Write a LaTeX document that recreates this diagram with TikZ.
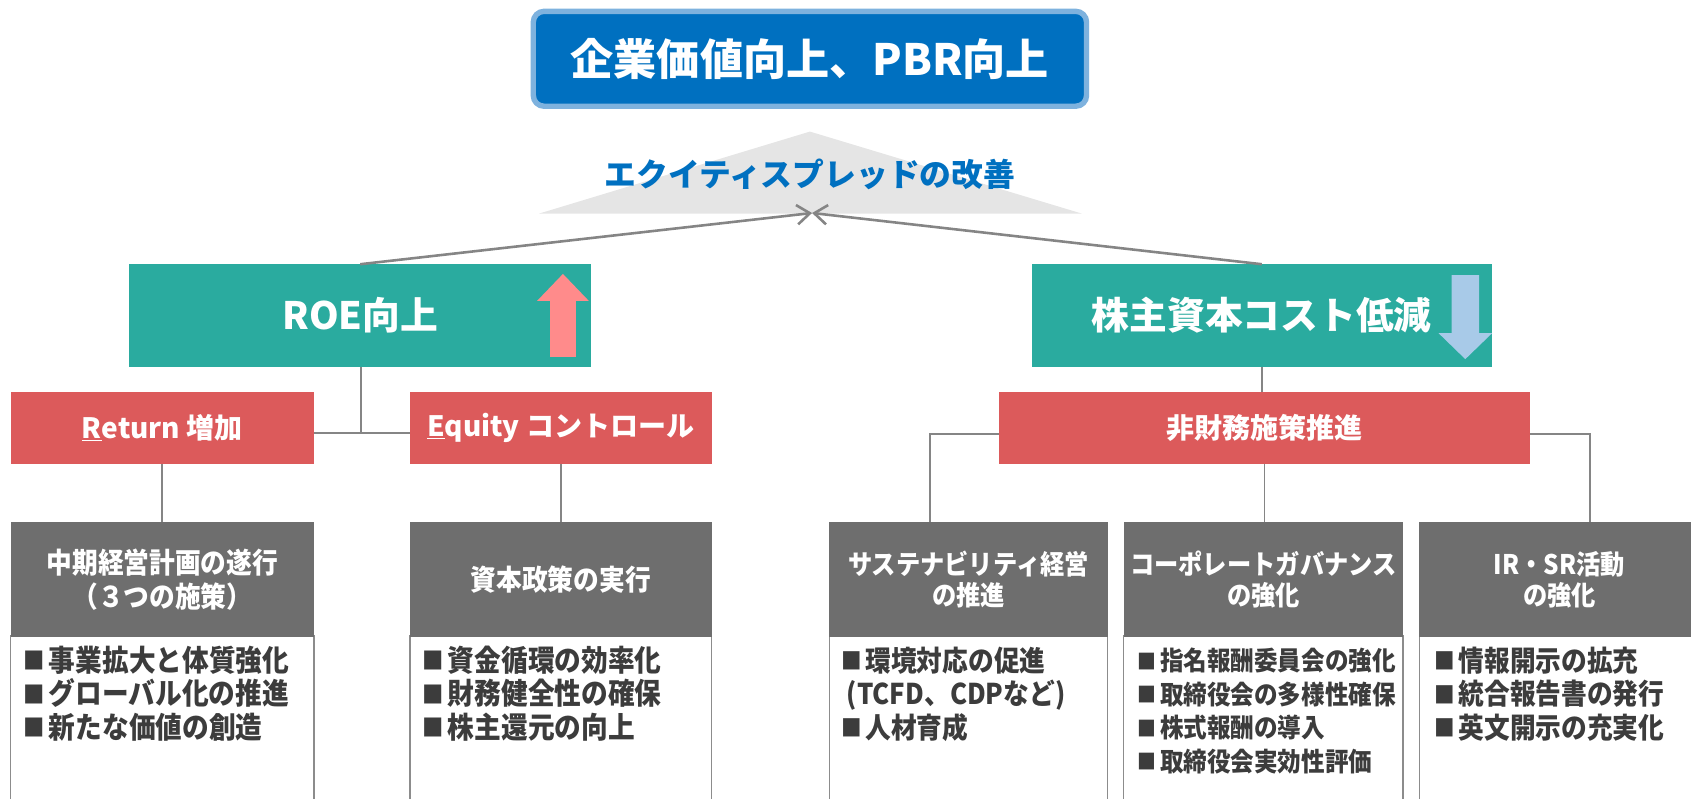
\documentclass[tikz,border=0pt]{standalone}
\usepackage{fontspec}
\setmainfont{Noto Sans CJK JP}
\newfontfamily\cond{Noto Sans CJK JP}[FakeStretch=0.9]
\usetikzlibrary{arrows.meta}
\newcommand\blt{\makebox[0.85em][l]{\raisebox{0.06em}{\scalebox{0.8}{■}}}}
\definecolor{titleblue}{HTML}{0070C0}
\definecolor{titleborder}{HTML}{7EB2DE}
\definecolor{tri}{HTML}{E5E5E5}
\definecolor{tealc}{HTML}{2AAB9F}
\definecolor{redc}{HTML}{DC5A5B}
\definecolor{hdr}{HTML}{6E6E6E}
\definecolor{linec}{HTML}{858585}
\definecolor{bodytxt}{HTML}{3C3C3C}
\definecolor{pinkc}{HTML}{FF8B8B}
\definecolor{lbluec}{HTML}{A8CAE8}
\definecolor{bordc}{HTML}{8C8C8C}
\begin{document}
\begin{tikzpicture}[x=1pt,y=-1pt,
  every node/.style={inner sep=0pt,outer sep=0pt},
  conn/.style={draw=linec,line width=1.8pt},
  arr/.style={draw=linec,line width=2.4pt,-{Straight Barb[length=12pt,width=18pt]}},
  tealbox/.style={fill=tealc,anchor=north west,minimum height=95pt,text=white,font=\fontsize{35}{40}\selectfont\bfseries},
  redbox/.style={fill=redc,anchor=north west,minimum height=66.5pt,text=white,font=\fontsize{26}{30}\selectfont\bfseries},
  hdrbox/.style={fill=hdr,anchor=north west,minimum height=107pt,text=white,align=center},
  bodybox/.style={draw=bordc,line width=1.3pt,fill=white,anchor=north west,minimum height=170pt},
  bodytext/.style={anchor=north west,text=bodytxt,align=left},
]
\useasboundingbox (0,0) rectangle (1568,740);

% title
\node[draw=titleborder,line width=5pt,fill=titleblue,rounded corners=10pt,
  minimum width=513pt,minimum height=88pt,text=white,
  font=\fontsize{40}{44}\selectfont\bfseries] (title) at (751,54.5) {企業価値向上、PBR向上};

% triangle and spread label
\fill[tri] (751,122) -- (1003,198) -- (500,198) -- cycle;
\node[text=titleblue,font=\fontsize{29.5}{32}\selectfont\bfseries] (spread) at (751,162) {エクイティスプレッドの改善};
\coordinate (meet) at (753,197.5);

% teal boxes
\node[tealbox,minimum width=428pt] (roe) at (120,245) {ROE向上};
\node[tealbox,minimum width=426pt] (cost) at (957,245) {株主資本コスト低減};

\fill[pinkc] (510,331) -- (510,279) -- (498,279) -- (522,254) -- (546,279) -- (534,279) -- (534,331) -- cycle;
\fill[lbluec] (1346,255) -- (1371.5,255) -- (1371.5,309) -- (1383.5,309) -- (1358.7,333) -- (1334,309) -- (1346,309) -- cycle;

\draw[arr] (roe.north) -- (meet);
\draw[arr] (cost.north) -- (meet);

% red boxes
\node[redbox,minimum width=281pt] (ret) at (10,363.5) {\underline{R}eturn 増加};
\node[redbox,minimum width=280pt] (eq) at (380,363.5) {\underline{E}quity コントロール};
\node[redbox,minimum width=493pt] (nf) at (926,363.5) {非財務施策推進};

% bottom boxes: bodies
\node[bodybox,minimum width=281pt] (p1) at (10,589) {};
\node[bodybox,minimum width=280pt] (p2) at (380,589) {};
\node[bodybox,minimum width=258pt] (p3) at (769,589) {};
\node[bodybox,minimum width=259pt] (p4) at (1042,589) {};
\node[bodybox,minimum width=260pt] (p5) at (1316,589) {};

% headers
\node[hdrbox,minimum width=281pt,font=\cond\fontsize{26.5}{31}\selectfont\bfseries] (b1) at (10,484) {中期経営計画の遂行\\（３つの施策）};
\node[hdrbox,minimum width=280pt,font=\cond\fontsize{26.5}{31}\selectfont\bfseries] (b2) at (380,484) {資本政策の実行};
\node[hdrbox,minimum width=258pt,font=\cond\fontsize{25}{29}\selectfont\bfseries] (b3) at (769,484) {サステナビリティ経営\\の推進};
\node[hdrbox,minimum width=259pt,font=\cond\fontsize{25}{29}\selectfont\bfseries] (b4) at (1042,484) {コーポレートガバナンス\\の強化};
\node[hdrbox,minimum width=260pt,font=\cond\fontsize{25}{29}\selectfont\bfseries] (b5) at (1316,484) {IR・SR活動\\の強化};

% body texts
\node[bodytext,font=\cond\fontsize{27.5}{31}\selectfont\bfseries] (t1) at (22,599) {\blt 事業拡大と体質強化\\\blt グローバル化の推進\\\blt 新たな価値の創造};
\node[bodytext,font=\cond\fontsize{27.5}{31}\selectfont\bfseries] (t2) at (392,599) {\blt 資金循環の効率化\\\blt 財務健全性の確保\\\blt 株主還元の向上};
\node[bodytext,font=\cond\fontsize{26.5}{31}\selectfont\bfseries] (t3) at (780,600) {\blt 環境対応の促進\\\hspace{0.2em}(TCFD、CDPなど)\\\blt 人材育成};
\node[bodytext,font=\cond\fontsize{24.3}{31}\selectfont\bfseries] (t4) at (1055,601) {\blt 指名報酬委員会の強化\\\blt 取締役会の多様性確保\\\blt 株式報酬の導入\\\blt 取締役会実効性評価};
\node[bodytext,font=\cond\fontsize{26.5}{31}\selectfont\bfseries] (t5) at (1330,600) {\blt 情報開示の拡充\\\blt 統合報告書の発行\\\blt 英文開示の充実化};

% connectors
\coordinate (jroe) at (335,401.5);
\draw[conn] (roe.south -| jroe) -- (jroe);
\draw[conn] (ret.east |- jroe) -- (eq.west |- jroe);
\draw[conn] (ret.south) -- (b1.north);
\draw[conn] (eq.south) -- (b2.north);
\draw[conn] (cost.south) -- (cost.south |- nf.north);
\coordinate (jl) at (862,402);
\coordinate (jr) at (1474,402);
\draw[conn] (nf.west |- jl) -- (jl) -- (jl |- b3.north);
\draw[conn] (nf.east |- jr) -- (jr) -- (jr |- b5.north);
\draw[conn] (nf.south) -- (nf.south |- b4.north);
\end{tikzpicture}
\end{document}
